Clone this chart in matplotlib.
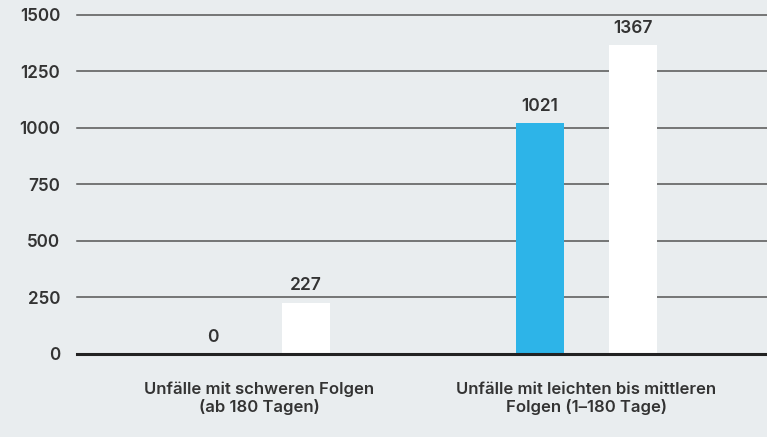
import numpy as np
import matplotlib.pyplot as plt

categories = ["Unfälle mit schweren Folgen\n(ab 180 Tagen)",
              "Unfälle mit leichten bis mittleren\nFolgen (1–180 Tage)"]
blue_vals = [0, 1021]
white_vals = [227, 1367]
yticks = [0, 250, 500, 750, 1000, 1250, 1500]

bg = '#e9edef'
txt = '#333333'
plt.rcParams['font.family'] = ['Inter', 'DejaVu Sans']

fig = plt.figure(figsize=(7.67, 4.37), dpi=100, facecolor=bg)
ax = fig.add_axes([0.1004, 0.19, 0.8996, 0.7757], facecolor=bg)

x = np.arange(len(categories))
w = 0.147
off = 0.142
b1 = ax.bar(x - off, blue_vals, w, color='#2db4e8', zorder=3)
b2 = ax.bar(x + off, white_vals, w, color='white', zorder=3)

for bars, vals in [(b1, blue_vals), (b2, white_vals)]:
    for r, v in zip(bars, vals):
        ax.annotate(str(v), (r.get_x() + r.get_width() / 2, v),
                    xytext=(0, 6), textcoords='offset points',
                    ha='center', va='bottom', fontsize=12.5,
                    fontweight='semibold', color=txt)

ax.set_xlim(-0.558, 1.552)
ax.set_ylim(0, 1500)
ax.set_yticks(yticks)
ax.set_yticklabels([str(t) for t in yticks], fontsize=12.3,
                   fontweight='semibold', color=txt)
ax.set_xticks(x)
ax.set_xticklabels(categories, fontsize=12, fontweight='semibold',
                   color=txt, linespacing=1.15)
ax.tick_params(axis='y', length=0, pad=12)
ax.tick_params(axis='x', length=0, pad=20)

for t in yticks[1:]:
    ax.axhline(t, color='#555555', lw=1.1, zorder=1, clip_on=False)
ax.axhline(0, color='#222222', lw=2.2, zorder=4, clip_on=False)

for s in ax.spines.values():
    s.set_visible(False)

fig.savefig('out.png', dpi=100, facecolor=bg)
